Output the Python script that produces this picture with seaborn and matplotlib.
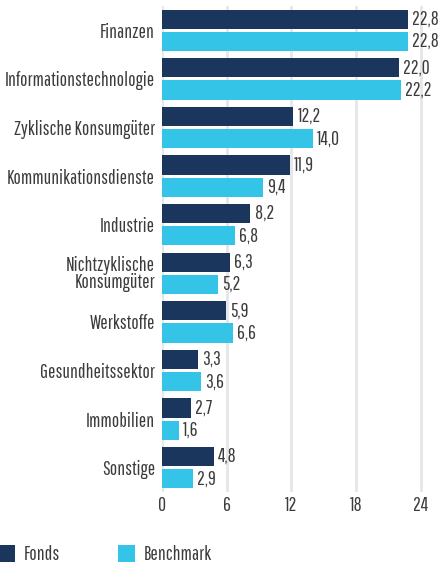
import matplotlib
matplotlib.use("Agg")
import matplotlib.pyplot as plt
import seaborn as sns
import pandas as pd
from matplotlib.patches import Patch

categories = ["Finanzen", "Informationstechnologie", "Zyklische Konsumgüter",
              "Kommunikationsdienste", "Industrie", "Nichtzyklische\nKonsumgüter",
              "Werkstoffe", "Gesundheitssektor", "Immobilien", "Sonstige"]
fonds = [22.8, 22.0, 12.2, 11.9, 8.2, 6.3, 5.9, 3.3, 2.7, 4.8]
benchmark = [22.8, 22.2, 14.0, 9.4, 6.8, 5.2, 6.6, 3.6, 1.6, 2.9]
series = ["Fonds", "Benchmark"]
colors = ["#1b365d", "#33c4e8"]
xticks = [0, 6, 12, 18, 24]

df = pd.DataFrame({
    "cat": categories * 2,
    "val": fonds + benchmark,
    "series": [series[0]] * len(categories) + [series[1]] * len(categories),
})

sns.set_style("white")
plt.rcParams['font.family'] = ['Pathway Gothic One', 'DejaVu Sans']
txtc = "#3c3c3c"
fs = 14

fig = plt.figure(figsize=(4.41, 5.65), dpi=100)
ax = fig.add_axes([162/441, 1-492/565, (426-162)/441, (492-6)/565])

sns.barplot(data=df, y="cat", x="val", hue="series", order=categories,
            hue_order=series, palette=colors, orient="h", width=0.917, gap=0.135,
            ax=ax, legend=False, saturation=1, linewidth=0, zorder=3)

ax.set_xlim(0, 24.5)
ax.set_ylim(9.5, -0.5)
ax.set_xticks(xticks)
ax.set_xticklabels([str(t) for t in xticks], fontsize=fs, color=txtc)
ax.tick_params(axis="y", labelsize=fs, labelcolor=txtc, length=0, pad=5)
ax.tick_params(axis="x", length=0, pad=3)
for lbl in ax.get_yticklabels():
    lbl.set_linespacing(0.85)
ax.set_xlabel("")
ax.set_ylabel("")
for s in ax.spines.values():
    s.set_visible(False)
ax.xaxis.grid(True, color="#e6e6e6", linewidth=2, zorder=0)
ax.set_axisbelow(True)

for cont in ax.containers:
    labels = [f"{v:.1f}".replace(".", ",") for v in cont.datavalues]
    ax.bar_label(cont, labels=labels, padding=3, fontsize=fs, color=txtc)

handles = [Patch(facecolor=c, edgecolor="none") for c in colors]
fig.legend(handles, series, loc="lower left", bbox_to_anchor=(-0.043, -0.029),
           ncol=2, frameon=False, fontsize=fs, handlelength=0.85, handleheight=1.0,
           columnspacing=3.0, handletextpad=0.45, labelcolor=txtc)

fig.savefig("out.png", dpi=100)
